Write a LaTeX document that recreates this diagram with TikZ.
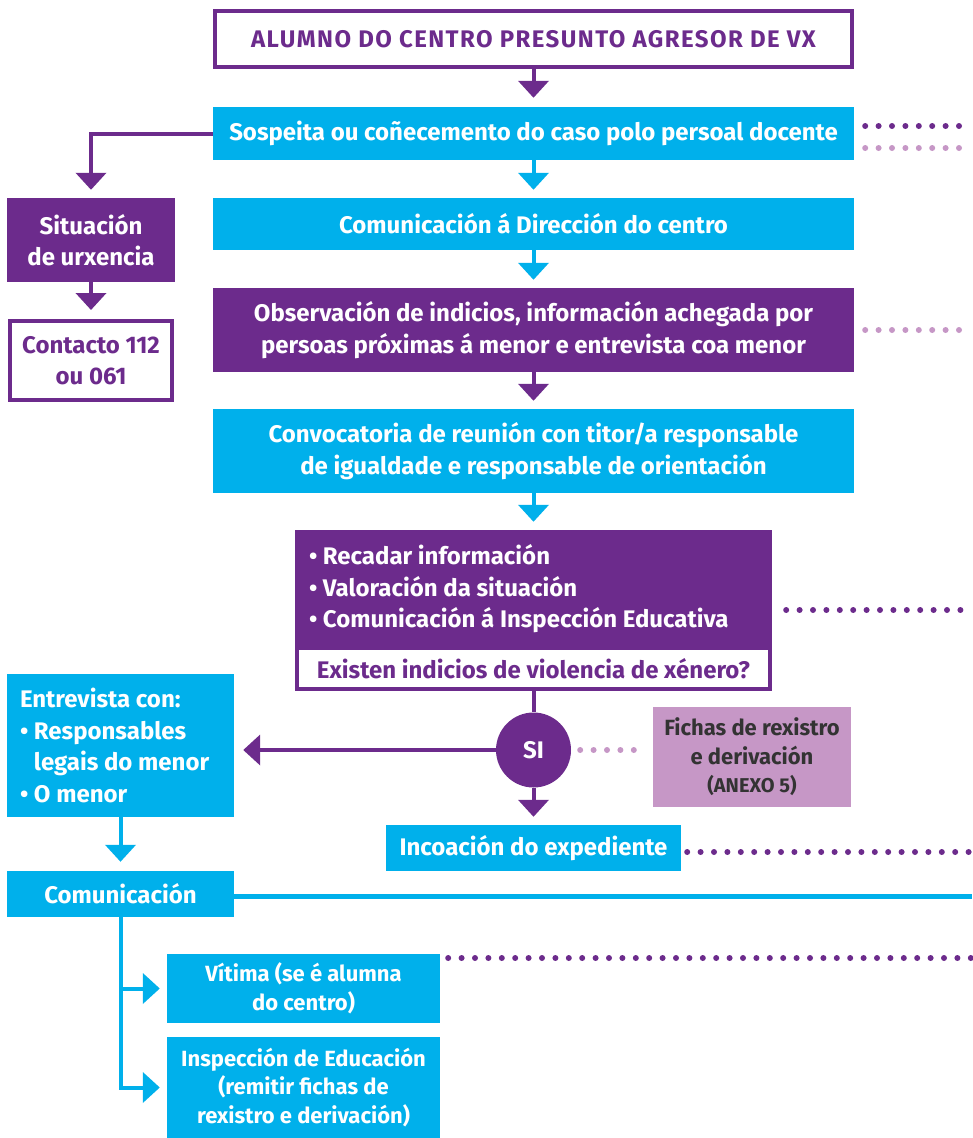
\documentclass[tikz,border=0pt]{standalone}
\usepackage{fontspec}
\setmainfont{Fira Sans}
\usetikzlibrary{arrows.meta}
\definecolor{vxpurple}{HTML}{6C2B8C}
\definecolor{vxcyan}{HTML}{00B0EB}
\definecolor{vxlilac}{HTML}{C697C6}
\definecolor{vxdark}{HTML}{333333}

\begin{document}
\begin{tikzpicture}[x=1pt,y=-1pt,
    bigfont/.style={font=\bfseries\fontsize{24}{31.5}\selectfont},
    smallfont/.style={font=\bfseries\fontsize{22}{28.5}\selectfont},
    cyanbox/.style={fill=vxcyan, text=white, align=center, inner sep=0pt, bigfont},
    purplebox/.style={fill=vxpurple, text=white, align=center, inner sep=0pt, bigfont},
    outlinebox/.style={draw=vxpurple, line width=4pt, fill=white, text=vxpurple, align=center, inner sep=0pt, bigfont},
    purplearrow/.style={draw=vxpurple, line width=4pt, -{Triangle[width=30pt,length=17pt]}},
    cyanarrow/.style={draw=vxcyan, line width=4pt, -{Triangle[width=30pt,length=17pt]}},
    darkdots/.style={draw=vxpurple, line width=6pt, line cap=round, dash pattern=on 0pt off 13.4pt},
    lightdots/.style={draw=vxlilac, line width=6pt, line cap=round, dash pattern=on 0pt off 13.4pt}]
   \useasboundingbox (0,0) rectangle (972,1138);
   \node[outlinebox, minimum width=637pt, minimum height=56pt] (alumno) at (533.5,39) {\addfontfeature{LetterSpace=6}ALUMNO DO CENTRO PRESUNTO AGRESOR DE VX};
   \node[cyanbox, minimum width=641pt, minimum height=53pt] (sospeita) at (533.5,133.5) {Sospeita ou coñecemento do caso polo persoal docente};
   \node[cyanbox, minimum width=641pt, minimum height=52pt] (direccion) at (533.5,224) {Comunicación á Dirección do centro};
   \node[purplebox, minimum width=641pt, minimum height=84pt] (observacion) at (533.5,330) {Observación de indicios, información achegada por\\persoas próximas á menor e entrevista coa menor};
   \node[cyanbox, minimum width=641pt, minimum height=84pt] (convocatoria) at (533.5,451) {Convocatoria de reunión con titor/a responsable\\de igualdade e responsable de orientación};
   \node[purplebox, align=flush left, text width=449pt, inner xsep=14pt, minimum height=118pt] (valoracion) at (533.5,589) {• Recadar información\\• Valoración da situación\\• Comunicación á Inspección Educativa};
   \node[outlinebox, minimum width=473pt, minimum height=41pt] (xenero) at (533.5,668.5) {Existen indicios de violencia de xénero?};
   \node[circle, fill=vxpurple, text=white, minimum size=75pt, inner sep=0pt, bigfont] (si) at (533.5,750) {SI};
   \node[fill=vxlilac, text=vxdark, align=center, inner sep=0pt, minimum width=198pt, minimum height=100pt, smallfont] (fichas) at (752,757) {Fichas de rexistro\\e derivación\\{\fontsize{20}{28.5}\selectfont(ANEXO 5)}};
   \node[cyanbox, minimum width=295pt, minimum height=46pt] (incoacion) at (533.5,848) {Incoación do expediente};
   \node[purplebox, minimum width=168pt, minimum height=84pt] (urxencia) at (91,240) {Situación\\de urxencia};
   \node[outlinebox, minimum width=162pt, minimum height=79pt] (contacto) at (91,360.5) {Contacto 112\\ou 061};
   \node[cyanbox, align=flush left, text width=201pt, inner xsep=13pt, minimum height=143pt] (entrevista) at (120.5,745.5) {Entrevista con:\\• Responsables\\\phantom{• }legais do menor\\• O menor};
   \node[cyanbox, minimum width=227pt, minimum height=46pt] (comunicacion) at (120.5,894) {Comunicación};
   \node[cyanbox, smallfont, minimum width=273pt, minimum height=69pt] (vitima) at (303.5,988.5) {Vítima (se é alumna\\do centro)};
   \node[cyanbox, smallfont, minimum width=273pt, minimum height=101pt] (inspeccion) at (303.5,1087.5) {Inspección de Educación\\(remitir fichas de\\rexistro e derivación)};
   \coordinate (dotA) at (972,126);
   \coordinate (dotB) at (972,148);
   \coordinate (dotC) at (972,330);
   \coordinate (dotD) at (972,610);
   \coordinate (dotE) at (972,852);
   \coordinate (dotF) at (972,958);
   \coordinate (comend) at (972,896);
   \draw[purplearrow, shorten >=9pt] (alumno) -- (sospeita);
   \draw[purplearrow, shorten >=8pt] (sospeita.west) -| (urxencia.north);
   \draw[purplearrow, shorten >=9pt] (urxencia) -- (contacto);
   \draw[cyanarrow, shorten >=8pt] (sospeita) -- (direccion);
   \draw[cyanarrow, shorten >=8pt] (direccion) -- (observacion);
   \draw[purplearrow, shorten >=8pt] (observacion) -- (convocatoria);
   \draw[cyanarrow, shorten >=8pt] (convocatoria) -- (valoracion);
   \draw[vxpurple, line width=4pt] (xenero) -- (si);
   \draw[purplearrow, shorten >=9pt] (si) -- (si -| entrevista.east);
   \draw[purplearrow, shorten >=8pt] (si) -- (incoacion);
   \draw[lightdots, shorten <=9pt, shorten >=9pt] (si.east) -- (si.east -| fichas.west);
   \draw[cyanarrow, shorten >=9pt] (entrevista) -- (comunicacion);
   \draw[vxcyan, line width=5pt] (comunicacion.east |- comend) -- (comend);
   \draw[cyanarrow, shorten >=7pt] (comunicacion.south) |- (vitima.west);
   \draw[cyanarrow, shorten >=7pt] (comunicacion.south) |- (inspeccion.west);
   \draw[darkdots, shorten <=11pt] (sospeita.east |- dotA) -- (dotA);
   \draw[lightdots, shorten <=11pt] (sospeita.east |- dotB) -- (dotB);
   \draw[lightdots, shorten <=11pt] (observacion.east |- dotC) -- (dotC);
   \draw[darkdots, shorten <=14pt] (valoracion.east |- dotD) -- (dotD);
   \draw[darkdots, shorten <=6pt] (incoacion.east |- dotE) -- (dotE);
   \draw[darkdots, shorten <=8pt] (vitima.east |- dotF) -- (dotF);
 \end{tikzpicture}
\end{document}
